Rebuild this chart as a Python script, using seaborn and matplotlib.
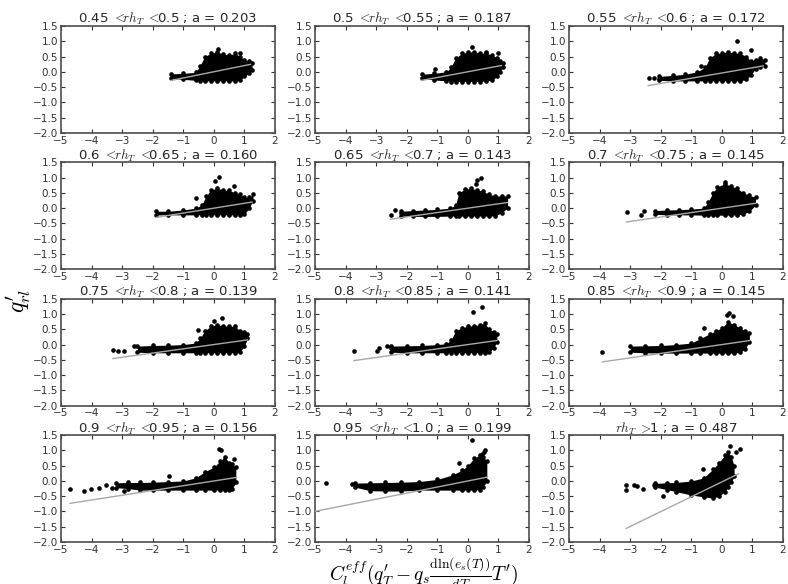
import numpy as np
import pandas as pd
import matplotlib
matplotlib.use("Agg")
import matplotlib.pyplot as plt
import seaborn as sns

# ---------------- data ----------------
bin_lower = ["0.45", "0.5", "0.55", "0.6", "0.65", "0.7", "0.75", "0.8", "0.85", "0.9", "0.95", "1"]
bin_upper = ["0.5", "0.55", "0.6", "0.65", "0.7", "0.75", "0.8", "0.85", "0.9", "0.95", "1.0", None]
slopes = [0.203, 0.187, 0.172, 0.160, 0.143, 0.145, 0.139, 0.141, 0.145, 0.156, 0.199, 0.487]
intercepts = [0.0, 0.0, -0.04, 0.0, 0.0, 0.0, 0.0, 0.0, 0.0, 0.0, 0.0, -0.03]
fit_x_start = [-1.4, -1.52, -2.41, -1.9, -2.53, -3.12, -3.3, -3.73, -3.91, -4.7, -5.0, -3.13]
fit_x_end = [1.2, 1.1, 1.35, 1.25, 1.3, 1.1, 1.1, 0.95, 0.9, 0.72, 0.62, 0.55]

# dense part of each point cloud: x positions with upper / lower edge of the cloud
cloud_x = [
    [-1.4, -1.0, -0.6, -0.45, -0.3, -0.1, 0.1, 0.3, 0.5, 0.7, 0.85, 1.0, 1.15, 1.25],
    [-1.5, -1.1, -0.7, -0.55, -0.4, -0.2, 0.0, 0.2, 0.4, 0.6, 0.8, 0.95, 1.05, 1.15],
    [-2.05, -1.6, -1.2, -0.8, -0.55, -0.4, -0.2, 0.0, 0.2, 0.4, 0.6, 0.8, 0.95, 1.1, 1.25, 1.4],
    [-1.9, -1.5, -1.0, -0.6, -0.4, -0.25, -0.1, 0.1, 0.3, 0.5, 0.7, 0.85, 1.0, 1.15, 1.28],
    [-2.2, -1.8, -1.4, -1.0, -0.6, -0.4, -0.3, -0.1, 0.1, 0.3, 0.5, 0.7, 0.9, 1.1, 1.3],
    [-2.2, -1.8, -1.4, -1.0, -0.6, -0.45, -0.3, -0.15, 0.1, 0.3, 0.5, 0.7, 0.9, 1.1],
    [-2.5, -2.0, -1.5, -1.0, -0.6, -0.45, -0.3, -0.1, 0.1, 0.3, 0.5, 0.7, 0.85, 1.0, 1.1],
    [-2.5, -2.0, -1.5, -1.0, -0.7, -0.55, -0.4, -0.2, 0.0, 0.2, 0.4, 0.55, 0.7, 0.85, 0.95],
    [-3.0, -2.5, -2.0, -1.5, -1.0, -0.7, -0.4, -0.2, 0.0, 0.2, 0.4, 0.6, 0.75, 0.9],
    [-3.2, -2.8, -2.4, -2.0, -1.5, -1.0, -0.6, -0.3, 0.0, 0.2, 0.35, 0.5, 0.6, 0.72],
    [-3.7, -3.2, -2.7, -2.2, -1.6, -1.0, -0.5, -0.2, 0.0, 0.2, 0.4, 0.5, 0.62],
    [-2.2, -1.8, -1.5, -1.0, -0.6, -0.3, -0.1, 0.1, 0.2, 0.3, 0.4],
]
cloud_hi = [
    [-0.07, -0.05, -0.02, 0.2, 0.5, 0.6, 0.65, 0.58, 0.55, 0.6, 0.5, 0.38, 0.35, 0.3],
    [-0.08, -0.05, 0.0, 0.15, 0.45, 0.6, 0.65, 0.65, 0.62, 0.6, 0.55, 0.45, 0.35, 0.3],
    [-0.15, -0.12, -0.08, 0.0, 0.15, 0.45, 0.6, 0.62, 0.65, 0.62, 0.6, 0.5, 0.35, 0.4, 0.45, 0.4],
    [-0.1, -0.1, -0.06, 0.0, 0.1, 0.4, 0.6, 0.65, 0.6, 0.58, 0.5, 0.45, 0.35, 0.35, 0.45],
    [-0.1, -0.08, -0.06, -0.04, 0.0, 0.1, 0.5, 0.62, 0.65, 0.6, 0.55, 0.45, 0.4, 0.4, 0.4],
    [-0.08, -0.06, -0.05, -0.03, 0.0, 0.2, 0.5, 0.7, 0.8, 0.72, 0.65, 0.5, 0.42, 0.35],
    [-0.05, -0.03, -0.02, 0.0, 0.05, 0.2, 0.45, 0.6, 0.65, 0.62, 0.6, 0.6, 0.45, 0.42, 0.35],
    [-0.05, -0.04, -0.03, 0.0, 0.03, 0.15, 0.45, 0.55, 0.6, 0.62, 0.65, 0.7, 0.5, 0.42, 0.35],
    [-0.05, -0.04, -0.03, 0.0, 0.05, 0.2, 0.35, 0.45, 0.55, 0.75, 0.65, 0.55, 0.45, 0.38],
    [-0.06, -0.05, -0.05, -0.04, -0.02, 0.0, 0.1, 0.3, 0.45, 0.65, 0.8, 0.6, 0.55, 0.45],
    [-0.07, -0.06, -0.05, -0.04, -0.02, 0.05, 0.2, 0.35, 0.5, 0.75, 0.85, 0.8, 0.65],
    [-0.08, -0.06, -0.05, 0.0, 0.1, 0.38, 0.6, 0.85, 0.95, 0.8, 0.5],
]
cloud_lo = [
    [-0.22, -0.25, -0.28, -0.3, -0.3, -0.3, -0.3, -0.3, -0.3, -0.3, -0.28, -0.15, -0.05, 0.05],
    [-0.22, -0.27, -0.3, -0.32, -0.32, -0.32, -0.32, -0.32, -0.32, -0.3, -0.28, -0.15, 0.0, 0.15],
    [-0.28, -0.3, -0.3, -0.3, -0.3, -0.3, -0.3, -0.3, -0.3, -0.3, -0.3, -0.25, -0.1, 0.1, 0.15, 0.2],
    [-0.22, -0.22, -0.22, -0.22, -0.22, -0.22, -0.22, -0.22, -0.22, -0.22, -0.22, -0.22, -0.2, 0.0, 0.25],
    [-0.26, -0.27, -0.27, -0.27, -0.26, -0.26, -0.26, -0.26, -0.26, -0.26, -0.26, -0.26, -0.25, -0.15, 0.0],
    [-0.2, -0.22, -0.22, -0.22, -0.23, -0.23, -0.23, -0.23, -0.23, -0.23, -0.22, -0.2, -0.1, 0.1],
    [-0.25, -0.27, -0.27, -0.27, -0.27, -0.27, -0.27, -0.27, -0.27, -0.27, -0.27, -0.27, -0.25, -0.05, 0.2],
    [-0.25, -0.27, -0.27, -0.27, -0.27, -0.27, -0.27, -0.27, -0.27, -0.27, -0.27, -0.27, -0.25, -0.1, 0.1],
    [-0.25, -0.27, -0.28, -0.28, -0.28, -0.28, -0.28, -0.28, -0.28, -0.28, -0.28, -0.25, -0.15, 0.1],
    [-0.22, -0.25, -0.3, -0.3, -0.3, -0.3, -0.3, -0.3, -0.3, -0.3, -0.3, -0.3, -0.25, -0.05],
    [-0.2, -0.32, -0.33, -0.33, -0.3, -0.3, -0.3, -0.3, -0.3, -0.3, -0.28, -0.2, 0.0],
    [-0.2, -0.28, -0.35, -0.46, -0.52, -0.56, -0.5, -0.35, -0.2, -0.05, 0.15],
]
# isolated points away from the dense part
outlier_x = [
    [0.14, 0.85, 1.1],
    [-1.09, 0.13, 0.6, 0.98],
    [-2.39, -2.23, -2.07, -0.67, 0.51, 0.94],
    [-0.6, 0.16, 0.65, 0.05],
    [-2.53, -2.37, -2.2, 0.31, 0.42, 0.25],
    [-3.12, -2.55, -2.64, 0.11],
    [-3.3, -3.15, -2.94, -2.6, -0.51, 0.27, 0.0],
    [-3.73, -2.97, -2.9, -2.64, -2.53, 0.18, 0.46],
    [-3.91, -0.6, 0.22, 0.35, 0.18],
    [-4.7, -4.26, -4.02, -3.75, -3.53, -3.32, -2.93, -1.47, 0.25, 0.16, 0.65],
    [-4.64, -3.8, -0.3, 0.13, 0.57, 0.46, 0.53],
    [-3.13, -3.13, -2.88, -2.77, -2.59, -2.23, -1.93, -0.61, 0.28, 0.6, 0.45],
]
outlier_y = [
    [0.73, 0.6, 0.15],
    [0.08, 0.82, 0.65, 0.6],
    [-0.22, -0.22, -0.24, 0.19, 1.02, 0.7],
    [0.32, 1.02, 0.74, 0.9],
    [-0.23, -0.07, -0.17, 0.91, 0.99, 0.8],
    [-0.12, -0.09, -0.23, 0.86],
    [-0.17, -0.2, -0.2, -0.06, 0.47, 0.87, 0.78],
    [-0.22, -0.22, -0.11, -0.05, -0.11, 1.06, 1.24],
    [-0.25, 0.53, 1.05, 0.92, 0.98],
    [-0.27, -0.33, -0.26, -0.24, -0.13, -0.24, -0.32, 0.16, 1.03, 1.06, 0.71],
    [-0.08, -0.1, 0.58, 1.34, 1.01, 0.9, 0.95],
    [-0.13, -0.29, -0.13, -0.16, -0.27, -0.13, -0.48, 0.38, 1.15, 1.05, 0.95],
]
x_ticks = [-5, -4, -3, -2, -1, 0, 1, 2]
y_ticks = [-2.0, -1.5, -1.0, -0.5, 0.0, 0.5, 1.0, 1.5]

# ---------------- figure ----------------
plt.rcParams["mathtext.fontset"] = "cm"
plt.rcParams["font.family"] = ["DejaVu Sans"]

fig, axes = plt.subplots(4, 3, figsize=(7.88, 5.84), dpi=100)
fig.subplots_adjust(left=0.0774, right=0.9937, bottom=0.0719, top=0.9555,
                    wspace=0.187, hspace=0.277)

for i, ax in enumerate(axes.flat):
    cx = np.array(cloud_x[i])
    ax.fill_between(cx, cloud_lo[i], cloud_hi[i], color="black", linewidth=0, zorder=2)
    edge = pd.DataFrame({"x": list(cx) + list(cx),
                         "y": list(cloud_hi[i]) + list(cloud_lo[i])})
    sns.scatterplot(data=edge, x="x", y="y", ax=ax, color="black", s=11,
                    linewidth=0, legend=False, zorder=3)
    sns.scatterplot(x=outlier_x[i], y=outlier_y[i], ax=ax, color="black", s=11,
                    linewidth=0, legend=False, zorder=3)
    fx = np.array([fit_x_start[i], fit_x_end[i]])
    fy = slopes[i] * fx + intercepts[i]
    sns.lineplot(x=fx, y=fy, ax=ax, color="#a8a8a8", linewidth=1.0, zorder=4)

    ax.set_xlim(-5, 2)
    ax.set_ylim(-2, 1.5)
    ax.set_xticks(x_ticks)
    ax.set_yticks(y_ticks)
    ax.set_yticklabels([f"{v:.1f}".replace("-", "\u2212") for v in y_ticks])
    ax.set_xticklabels([str(v).replace("-", "\u2212") for v in x_ticks])
    ax.tick_params(direction="in", length=3, width=0.8, top=True, right=True,
                   labelsize=7.5, colors="0.2", pad=2)
    for sp in ax.spines.values():
        sp.set_color("0.3")
        sp.set_linewidth(1.2)
    ax.set_xlabel("")
    ax.set_ylabel("")
    if bin_upper[i] is None:
        title = r"$rh_T\ >\!\!$" + f"{bin_lower[i]} ; a = {slopes[i]:.3f}"
    else:
        title = f"{bin_lower[i]} " + r"$<\!\!rh_T\ <\!\!$" + f"{bin_upper[i]} ; a = {slopes[i]:.3f}"
    ax.set_title(title, fontsize=9.5, pad=2, color="0.15")

fig.text(0.5375, 0.049, r"$C_l^{eff}(q_T'-q_s\frac{\mathrm{d}\ln(e_s(T))}{dT}T')$",
         fontsize=14, ha="center", va="top")
fig.text(0.024, 0.485, r"$q_{rl}'$", rotation=90, fontsize=17, ha="center", va="center")

fig.savefig("out.png", dpi=100)
